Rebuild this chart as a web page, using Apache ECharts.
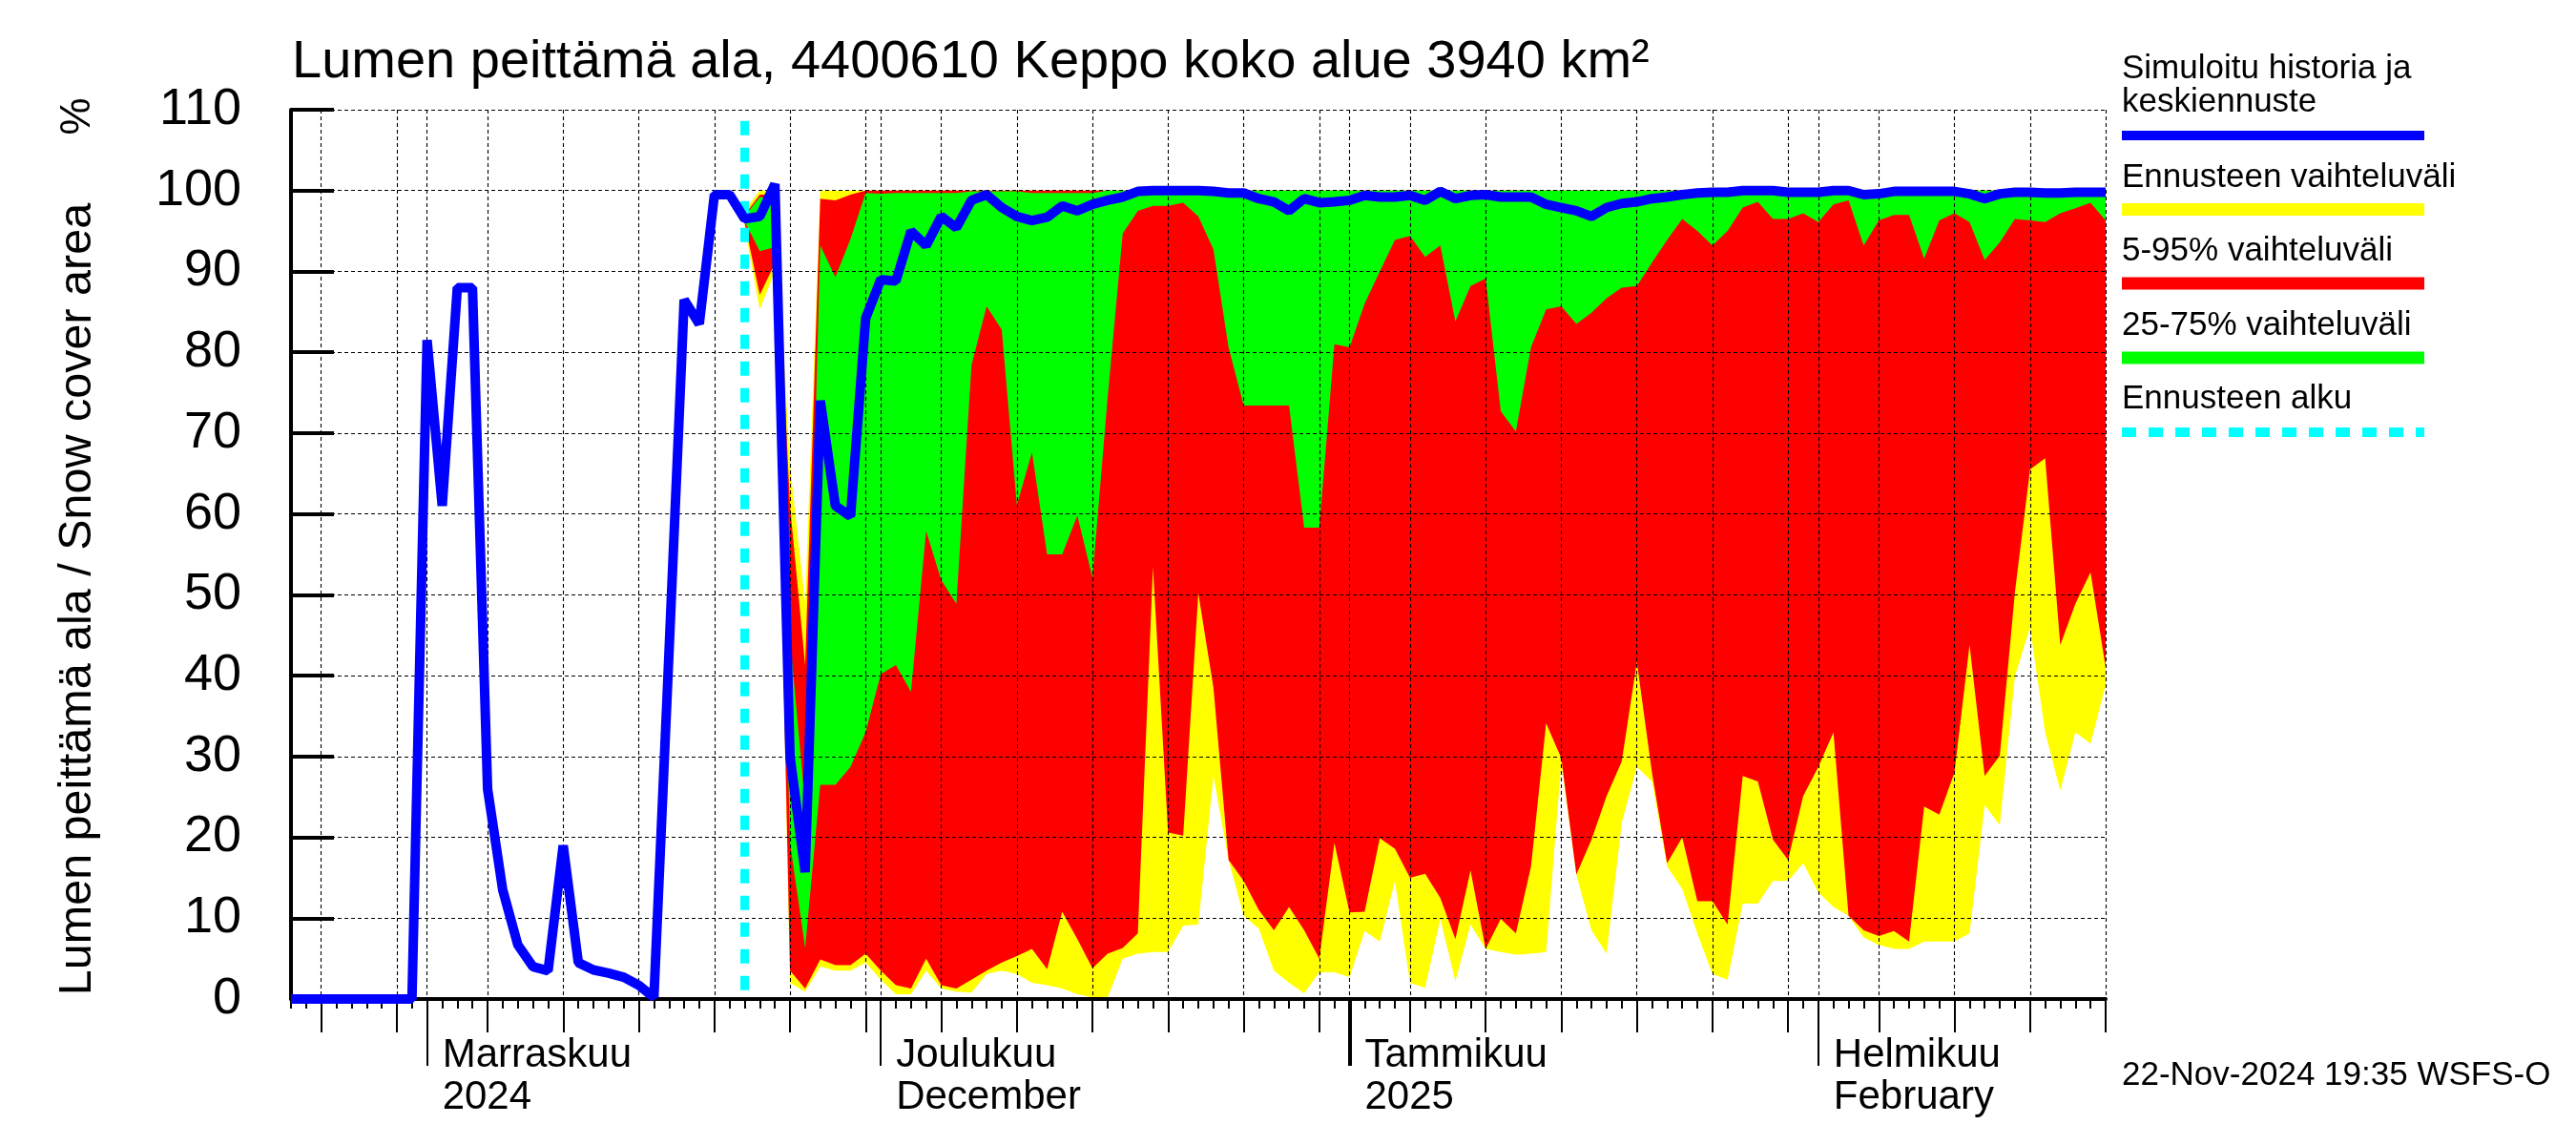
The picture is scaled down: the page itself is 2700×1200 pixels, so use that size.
<!DOCTYPE html>
<html>
<head>
<meta charset="utf-8">
<script src="https://cdn.jsdelivr.net/npm/echarts/dist/echarts.min.js"></script>
<style>html,body{margin:0;padding:0;background:#fff}#chart{width:2700px;height:1200px}</style>
</head>
<body>
<div id="chart"></div>
<script>
// ---------------- data ----------------
const startDate = [2024, 9, 23];          // 23 Oct 2024 (UTC, month 0-based)
const dayCount = 121;                     // 23 Oct 2024 .. 20 Feb 2025
const forecastStartIndex = 30;            // 22 Nov 2024

const titleText = 'Lumen peittämä ala, 4400610 Keppo koko alue 3940 km²';
const yAxisTitle = 'Lumen peittämä ala / Snow cover area';
const yAxisUnit = '%';
const stampText = '22-Nov-2024 19:35 WSFS-O';
const monthLabels = {
  '2024-11-01': 'Marraskuu\n2024',
  '2024-12-01': 'Joulukuu\nDecember',
  '2025-01-01': 'Tammikuu\n2025',
  '2025-02-01': 'Helmikuu\nFebruary'
};
const legendLabels = [
  ['Simuloitu historia ja', 'keskiennuste'],
  ['Ennusteen vaihteluväli'],
  ['5-95% vaihteluväli'],
  ['25-75% vaihteluväli'],
  ['Ennusteen alku']
];

// simulated history + mean forecast, one value per day (index 0 = 23 Oct)
const simulated = [
  0,0,0,0,0,0,0,0,0,
  81.5,61,88,88,26,13.5,6.7,4,3.5,19,4.5,
  3.6,3.2,2.7,1.7,0.2,43,86.5,83.5,99.5,99.5,
  96.5,96.8,100.8,30,15.7,74,61,59.7,84.2,89,
  88.8,95,93.2,96.8,95.4,98.8,99.5,97.9,96.8,96.3,
  96.7,98.1,97.5,98.3,98.8,99.2,99.9,100,100,100,
  100,99.9,99.7,99.7,99,98.6,97.5,99,98.5,98.6,
  98.8,99.4,99.2,99.2,99.4,98.8,99.9,99,99.4,99.5,
  99.2,99.2,99.2,98.3,97.9,97.5,96.8,97.9,98.4,98.6,
  99,99.2,99.5,99.7,99.8,99.8,100,100,100,99.8,
  99.8,99.8,100,100,99.5,99.6,99.9,99.9,99.9,99.9,
  99.9,99.6,99,99.6,99.8,99.8,99.7,99.7,99.8,99.8,
  99.8
];

// forecast bands, one value per day from 22 Nov (index 30) to 20 Feb (index 120)
const rangeMax = [
  97.5,100,100,66,49,100,100,100,100,100,
  100,100,100,100,100,100,100,100,100,100,
  100,100,100,100,100,100,100,100,100,100,
  100,100,100,100,100,100,100,100,100,100,
  100,100,100,100,100,100,100,100,100,100,
  100,100,100,100,100,100,100,100,100,100,
  100,100,100,100,100,100,100,100,100,100,
  100,100,100,100,100,100,100,100,100,100,
  100,100,100,100,100,100,100,100,100,100,
  100
];
const p95 = [
  97,99.5,99.5,61,41.3,99,98.8,99.5,100,100,
  100,100,100,100,100,100,100,100,100,100,
  100,100,100,100,100,100,100,100,100,100,
  100,100,100,100,100,100,100,100,100,100,
  100,100,100,100,100,100,100,100,100,100,
  100,100,100,100,100,100,100,100,100,100,
  100,100,100,100,100,100,100,100,100,100,
  100,100,100,100,100,100,100,100,100,100,
  100,100,100,100,100,100,100,100,100,100,
  100
];
const p75 = [
  96.8,99.2,99,44.6,24,93.2,89.3,94,99.7,99.6,
  99.7,99.7,99.7,99.7,99.7,99.9,99.9,99.9,99.9,99.7,
  99.7,99.7,99.7,99.7,100,100,100,100,100,100,
  100,100,100,100,100,100,100,100,100,100,
  100,100,100,100,100,100,100,100,100,100,
  100,100,100,100,100,100,100,100,100,100,
  100,100,100,100,100,100,100,100,100,100,
  100,100,100,100,100,100,100,100,100,100,
  100,100,100,100,100,100,100,100,100,100,
  100
];
const p25 = [
  96.2,92.5,93,19.3,6.3,26.5,26.5,28.7,33,40.2,
  41.3,38,57.9,51.8,48.9,78.4,85.7,82.8,61.1,67.6,
  55,55,59.8,52.1,74.3,94.7,97.5,98.1,98.1,98.5,
  96.8,92.7,80.6,73.4,73.4,73.4,73.4,58.3,58.3,81,
  80.6,86,90,93.9,94.4,91.8,93.2,83.8,88.2,89.1,
  72.7,70.2,80.6,85.3,85.7,83.5,84.9,86.7,88,88.2,
  91.1,93.9,96.5,95,93.2,95,97.9,98.6,96.5,96.5,
  97.2,96.1,98.3,98.8,93.2,96.3,97,97,91.6,96.3,
  97.2,96.1,91.4,93.6,96.5,96.3,96.1,97.2,97.8,98.5,
  96.3
];
const p5 = [
  96,87.1,91,3.5,1.3,4.9,4.2,4.2,5.6,3.5,
  1.7,1.3,5,1.7,1.3,2.4,3.5,4.5,5.3,6.2,
  3.7,10.8,7.4,3.8,5.6,6.3,8.1,53.4,20.6,20.2,
  50.2,38.5,17.2,14.6,11,8.5,11.4,8.5,5,19.3,
  10.7,10.8,19.9,18.6,15,15.5,12.5,7.4,15.9,6.2,
  9.9,8.1,16.4,34.1,29.8,15.4,19.7,25.1,29.4,41.7,
  28,16.8,20,12.1,12.1,9.2,27.6,26.9,19.7,17.2,
  25.1,28.7,33,10.3,8.5,7.8,8.4,7.1,23.8,22.8,
  28,43.8,27.6,30.1,50.3,65.5,66.9,43.8,48.9,52.8,
  41
];
const rangeMin = [
  95.5,85.3,90,2,0.9,4,3.5,3.5,4.5,2.4,
  0.6,0.6,3.5,1.3,0.9,0.8,3.1,3.5,3.1,2,
  1.7,1.3,0.6,0.2,0.2,5,5.6,5.8,5.8,9.1,
  9.2,27.6,17.2,10.3,8.7,3.5,2,0.7,3.3,3.3,
  2.7,8.4,7.1,14.6,2,1.4,9.9,2.2,9.2,6.2,
  5.8,5.5,5.6,5.8,29.1,15.4,8.5,5.6,21.8,28.7,
  26.9,16.4,13.6,8.1,3.1,2.4,11.8,11.8,14.6,14.6,
  16.8,13.2,11.4,10.3,7.6,6.7,6.2,6.2,7.1,7.1,
  7.1,8.1,24,21.5,39.9,46,33,25.8,33,31.6,
  38.8
];

// ---------------- build ----------------
const FONT = '"Liberation Sans", Arial, Helvetica, sans-serif';
const COL = { blue:'#0000FF', yellow:'#FFFF00', red:'#FF0000', green:'#00FF00', cyan:'#00FFFF' };

const dates = [];
for (let i = 0; i < dayCount; i++) {
  const d = new Date(Date.UTC(startDate[0], startDate[1], startDate[2] + i));
  dates.push(d.getUTCFullYear() + '-' + String(d.getUTCMonth() + 1).padStart(2, '0') + '-' + String(d.getUTCDate()).padStart(2, '0'));
}
const dom = v => parseInt(String(v).slice(8), 10);
const isGridDay = (i, v) => { const d = dom(v); return d === 1 || (d % 5 === 0 && d <= 30); };
const isFiveDay = (i, v) => dom(v) % 5 === 0;
const isMonthStart = (i, v) => dom(v) === 1;
const isYearStart = (i, v) => String(v).slice(5) === '01-01';

const pad = arr => new Array(forecastStartIndex).fill('-').concat(arr);
const diff = (hi, lo) => hi.map((v, i) => Math.round((v - lo[i]) * 100) / 100);

function band(id, lo, hi, color) {
  return [
    { name: id + ' base', type: 'line', stack: id, data: pad(lo), symbol: 'none', silent: true,
      lineStyle: { width: 0, opacity: 0 }, z: 2, animation: false },
    { name: id, type: 'line', stack: id, data: pad(diff(hi, lo)), symbol: 'none', silent: true,
      lineStyle: { width: 0, opacity: 0 }, areaStyle: { color: color, opacity: 1 }, z: 2, animation: false }
  ];
}

const baseX = {
  type: 'category', data: dates, boundaryGap: false, gridIndex: 0, position: 'bottom', z: 5,
  axisLine: { show: false }, axisLabel: { show: false }, splitLine: { show: false },
  axisTick: { show: false }
};

const gridDash = { color: '#000', width: 1.1, type: [4, 3] };

const xAxes = [
  Object.assign({}, baseX, {
    axisLine: { show: true, onZero: false, lineStyle: { color: '#000', width: 4 } },
    axisTick: { show: true, interval: 0, length: 10, lineStyle: { color: '#000', width: 2 } },
    splitLine: { show: true, interval: isGridDay, lineStyle: gridDash }
  }),
  Object.assign({}, baseX, {
    axisTick: { show: true, interval: isFiveDay, length: 35, lineStyle: { color: '#000', width: 2 } }
  }),
  Object.assign({}, baseX, {
    axisTick: { show: true, interval: isMonthStart, length: 70, lineStyle: { color: '#000', width: 2 } },
    axisLabel: {
      show: true, interval: isMonthStart, formatter: v => monthLabels[v] || '',
      align: 'left', verticalAlign: 'top', padding: [0, 0, 0, 16], margin: 37,
      fontSize: 42, lineHeight: 44, fontFamily: FONT, color: '#000'
    }
  }),
  Object.assign({}, baseX, {
    axisTick: { show: true, interval: isYearStart, length: 70, lineStyle: { color: '#000', width: 4 } }
  })
];

const legendTop = [72, 186, 263, 341, 418];
const legendLineY = [142, 219.5, 297, 375, 453];
const legendStyle = [
  { stroke: COL.blue, lineWidth: 10 },
  { stroke: COL.yellow, lineWidth: 13 },
  { stroke: COL.red, lineWidth: 13 },
  { stroke: COL.green, lineWidth: 13 },
  { stroke: COL.cyan, lineWidth: 10, lineDash: [15, 13] }
];
const LX = 2224, LX2 = 2541;
const graphics = [
  { type: 'text', x: 306, y: 66, z: 20,
    style: { text: titleText, fontSize: 56, fontFamily: FONT, fill: '#000', align: 'left', verticalAlign: 'middle' } },
  { type: 'text', x: 82, y: 628, rotation: Math.PI / 2, z: 20,
    style: { text: yAxisTitle, fontSize: 48.5, fontFamily: FONT, fill: '#000', align: 'center', verticalAlign: 'middle' } },
  { type: 'text', x: 82, y: 122, rotation: Math.PI / 2, z: 20,
    style: { text: yAxisUnit, fontSize: 44, fontFamily: FONT, fill: '#000', align: 'center', verticalAlign: 'middle' } },
  { type: 'text', x: LX, y: 1127.5, z: 20,
    style: { text: stampText, fontSize: 35, fontFamily: FONT, fill: '#000', align: 'left', verticalAlign: 'middle' } }
];
legendLabels.forEach((lines, k) => {
  lines.forEach((t, j) => {
    graphics.push({ type: 'text', x: LX, y: legendTop[k] + j * 35.5, z: 20,
      style: { text: t, fontSize: 35, fontFamily: FONT, fill: '#000', align: 'left', verticalAlign: 'middle' } });
  });
  graphics.push({ type: 'line', z: 20, shape: { x1: LX, y1: legendLineY[k], x2: LX2, y2: legendLineY[k] },
    style: legendStyle[k] });
});

const option = {
  animation: false,
  backgroundColor: '#fff',
  grid: { left: 305, right: 493, top: 115, bottom: 153, containLabel: false, outerBoundsMode: 'none' },
  xAxis: xAxes,
  yAxis: {
    type: 'value', min: 0, max: 110, interval: 10, z: 5,
    axisLine: { show: true, lineStyle: { color: '#000', width: 4 } },
    axisTick: { show: true, inside: true, length: 45, lineStyle: { color: '#000', width: 4 } },
    axisLabel: { fontSize: 54, fontFamily: FONT, color: '#000', margin: 52 },
    splitLine: { show: true, lineStyle: gridDash }
  },
  graphic: graphics,
  series: [
    ...band('Ennusteen vaihteluväli', rangeMin, rangeMax, COL.yellow),
    ...band('5-95% vaihteluväli', p5, p95, COL.red),
    ...band('25-75% vaihteluväli', p25, p75, COL.green),
    { name: 'Simuloitu historia ja keskiennuste', type: 'line', data: simulated, symbol: 'none', z: 10,
      lineStyle: { color: COL.blue, width: 10 } },
    { name: 'Ennusteen alku', type: 'line', symbol: 'none', z: 9,
      data: [[dates[forecastStartIndex], 108.6], [dates[forecastStartIndex], 0]],
      lineStyle: { color: COL.cyan, width: 9, type: [15, 13] } }
  ]
};

const chart = echarts.init(document.getElementById('chart'), null, { renderer: 'canvas' });
chart.setOption(option);
</script>
</body>
</html>
